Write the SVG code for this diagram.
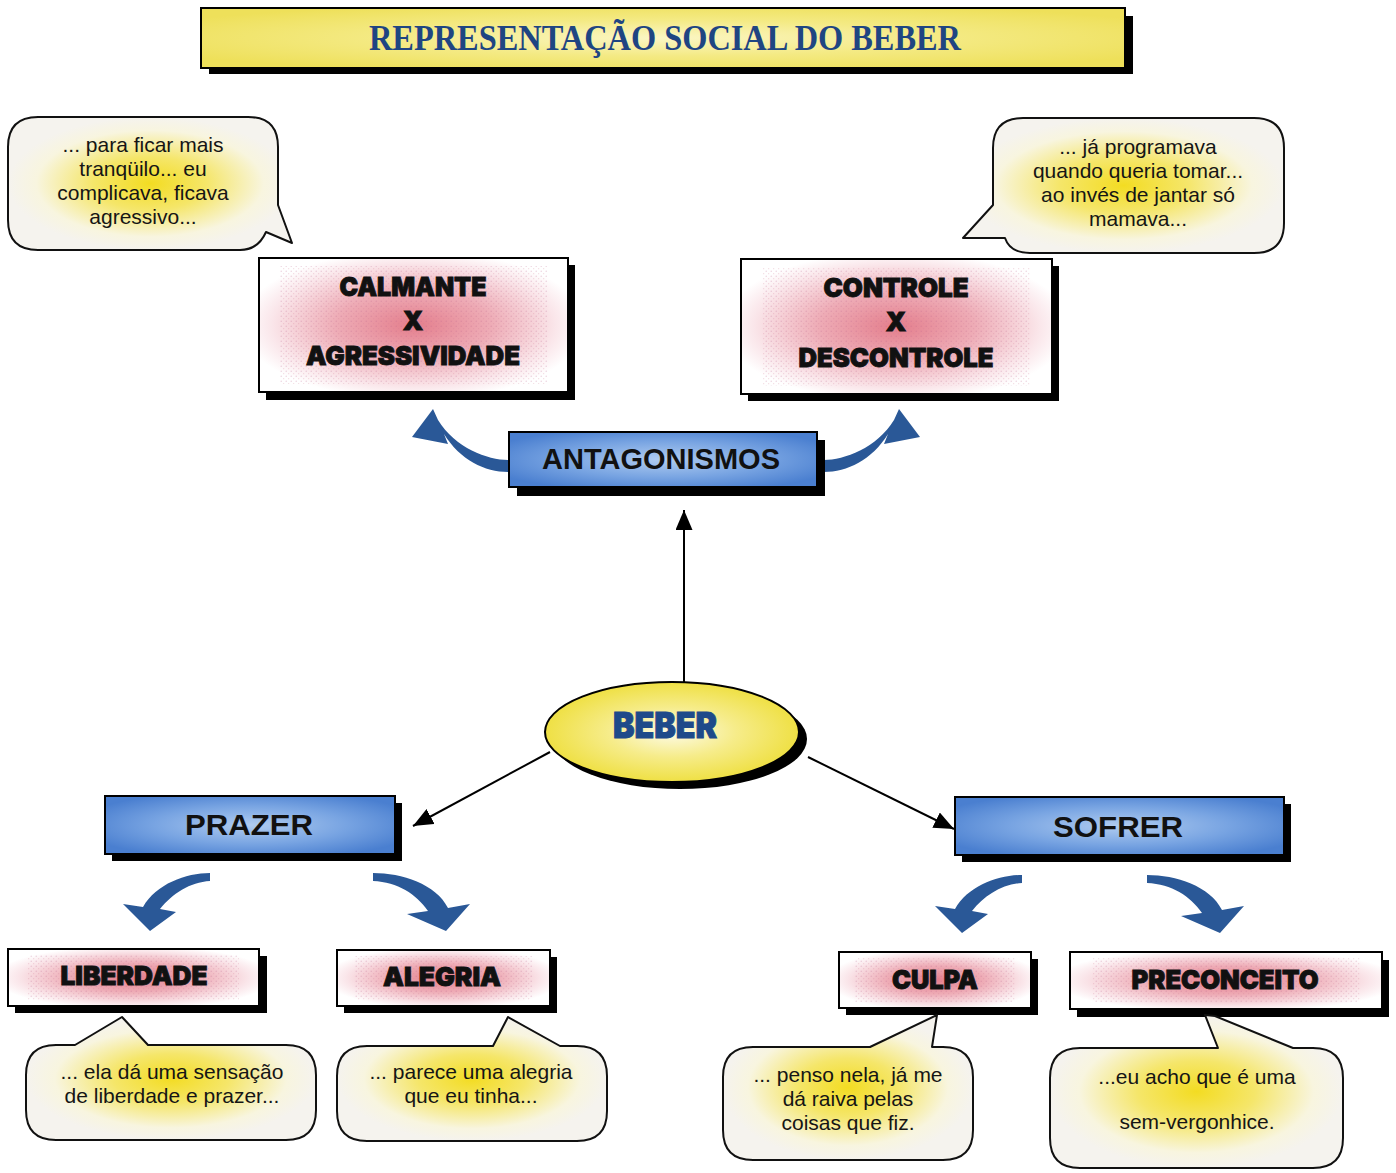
<svg xmlns="http://www.w3.org/2000/svg" width="1396" height="1173" viewBox="0 0 1396 1173">
  <defs>
    <radialGradient id="gTitle" cx="0.5" cy="0.5" r="0.6">
      <stop offset="0" stop-color="#fbf6c4"/>
      <stop offset="0.5" stop-color="#f4ea84"/>
      <stop offset="1" stop-color="#eee05a"/>
    </radialGradient>
    <radialGradient id="gBlue" cx="0.5" cy="0.5" r="0.6">
      <stop offset="0" stop-color="#b0ccf0"/>
      <stop offset="0.55" stop-color="#78a4e2"/>
      <stop offset="1" stop-color="#4a7fd0"/>
    </radialGradient>
    <radialGradient id="gPink" cx="0.5" cy="0.5" r="0.56">
      <stop offset="0" stop-color="#e47e8c"/>
      <stop offset="0.45" stop-color="#eeacb6"/>
      <stop offset="0.82" stop-color="#fae6ea"/>
      <stop offset="1" stop-color="#ffffff"/>
    </radialGradient>
    <pattern id="dots" width="5" height="5" patternUnits="userSpaceOnUse">
      <circle cx="1.2" cy="1.2" r="0.7" fill="#b85c8c"/>
      <circle cx="3.7" cy="3.7" r="0.6" fill="#d07890"/>
    </pattern>
    <radialGradient id="gBubble" cx="0.5" cy="0.5" r="0.5">
      <stop offset="0" stop-color="#f3dc22"/>
      <stop offset="0.4" stop-color="#f5e66a"/>
      <stop offset="0.8" stop-color="#f8f5df"/>
      <stop offset="1" stop-color="#f5f3ee"/>
    </radialGradient>
    <radialGradient id="gEllipse" cx="0.5" cy="0.5" r="0.5">
      <stop offset="0" stop-color="#fdfbe8"/>
      <stop offset="0.5" stop-color="#f6ec8a"/>
      <stop offset="1" stop-color="#efe044"/>
    </radialGradient>
    <marker id="ah" viewBox="0 0 10 10" refX="10" refY="5" markerWidth="20" markerHeight="17" markerUnits="userSpaceOnUse" orient="auto" preserveAspectRatio="none">
      <path d="M0,0 L10,5 L0,10 Z" fill="#000"/>
    </marker>
    <path id="curveUp" d="M508,460 C488,460 455,448 438,420 L433,409 L412,437 L448,444 L444,434 C460,460 485,472 508,472 Z"/>
  </defs>
  <style>
    .shadow { fill: #000; }
    .box { stroke: #000; stroke-width: 2; }
    .blue { fill: url(#gBlue); }
    .pink { fill: url(#gPink); }
    .dots { fill: url(#dots); opacity: 0.3; }
    .bubble { fill: url(#gBubble); stroke: #111; stroke-width: 2; stroke-linejoin: round; }
    .heavy { font-family: Inter, "DejaVu Sans", sans-serif; font-weight: 900; font-size: 26px; fill: #111; stroke: #111; stroke-width: 0.9; text-anchor: middle; }
    .label { font-family: "Liberation Sans", Arial, sans-serif; font-weight: bold; font-size: 30px; fill: #111; text-anchor: middle; }
    .quote { font-family: "Liberation Sans", Arial, sans-serif; font-size: 21px; fill: #151515; text-anchor: middle; }
    .conn { stroke: #000; stroke-width: 2; fill: none; marker-end: url(#ah); }
    .bend { fill: #2a5897; }
  </style>

  <rect width="1396" height="1173" fill="#ffffff"/>

  <!-- title banner -->
  <g id="title">
    <rect class="shadow" x="209" y="16" width="924" height="58"/>
    <rect x="201" y="8" width="924" height="60" fill="url(#gTitle)" class="box"/>
    <text x="665" y="50" font-family="'Liberation Serif', 'Times New Roman', serif" font-weight="bold" font-size="36" fill="#1f4582" text-anchor="middle" textLength="592" lengthAdjust="spacingAndGlyphs">REPRESENTAÇÃO SOCIAL DO BEBER</text>
  </g>

  <!-- connectors -->
  <g id="connectors">
    <path class="conn" d="M684,682 L684,510"/>
    <path class="conn" d="M550,752 L413,826"/>
    <path class="conn" d="M808,757 L954,829"/>
    <use href="#curveUp" class="bend"/>
    <use href="#curveUp" class="bend" transform="translate(1332,0) scale(-1,1)"/>
    <!-- PRAZER branches -->
    <path class="bend" d="M210,873 C186,873 156,884 143,907 L123,904 L150,931 L176,912 L160,909 C172,894 190,882 210,881 Z"/>
    <path class="bend" d="M373,873 C402,873 436,884 448,908 L470,904 L446,931 L407,914 L428,911 C416,894 398,882 373,881 Z"/>
    <!-- SOFRER branches -->
    <path class="bend" transform="translate(812,2)" d="M210,873 C186,873 156,884 143,907 L123,904 L150,931 L176,912 L160,909 C172,894 190,882 210,881 Z"/>
    <path class="bend" transform="translate(774,2)" d="M373,873 C402,873 436,884 448,908 L470,904 L446,931 L407,914 L428,911 C416,894 398,882 373,881 Z"/>
  </g>

  <!-- speech bubbles, top -->
  <g id="quote-calmante">
    <path class="bubble" d="M38,117 L248,117 Q278,117 278,147 L278,205 L292,243 L266,232 Q258,250 240,250 L38,250 Q8,250 8,220 L8,147 Q8,117 38,117 Z"/>
    <text class="quote" x="143" y="152">... para ficar mais</text>
    <text class="quote" x="143" y="176">tranqüilo... eu</text>
    <text class="quote" x="143" y="200">complicava, ficava</text>
    <text class="quote" x="143" y="224">agressivo...</text>
  </g>
  <g id="quote-controle">
    <path class="bubble" d="M1023,118 L1254,118 Q1284,118 1284,148 L1284,223 Q1284,253 1254,253 L1030,253 Q1010,253 1005,238 L963,238 L993,205 L993,148 Q993,118 1023,118 Z"/>
    <text class="quote" x="1138" y="154">... já programava</text>
    <text class="quote" x="1138" y="178">quando queria tomar...</text>
    <text class="quote" x="1138" y="202">ao invés de jantar só</text>
    <text class="quote" x="1138" y="226">mamava...</text>
  </g>

  <!-- antagonism boxes -->
  <g id="calmante">
    <rect class="shadow" x="266" y="265" width="309" height="135"/>
    <rect class="box pink" x="259" y="258" width="309" height="134"/>
    <rect class="dots" x="280" y="266" width="268" height="118"/>
    <text class="heavy" x="413" y="296" textLength="147" lengthAdjust="spacingAndGlyphs">CALMANTE</text>
    <text class="heavy" x="413" y="330">X</text>
    <text class="heavy" x="413" y="365" textLength="214" lengthAdjust="spacingAndGlyphs">AGRESSIVIDADE</text>
  </g>
  <g id="controle">
    <rect class="shadow" x="748" y="266" width="311" height="135"/>
    <rect class="box pink" x="741" y="259" width="311" height="135"/>
    <rect class="dots" x="762" y="267" width="268" height="119"/>
    <text class="heavy" x="896" y="297" textLength="145" lengthAdjust="spacingAndGlyphs">CONTROLE</text>
    <text class="heavy" x="896" y="331">X</text>
    <text class="heavy" x="896" y="367" textLength="195" lengthAdjust="spacingAndGlyphs">DESCONTROLE</text>
  </g>

  <g id="antagonismos">
    <rect class="shadow" x="517" y="440" width="308" height="56"/>
    <rect class="box blue" x="509" y="432" width="308" height="55"/>
    <text class="label" x="661" y="469" font-size="29" textLength="238" lengthAdjust="spacingAndGlyphs">ANTAGONISMOS</text>
  </g>

  <!-- central node -->
  <g id="beber">
    <ellipse cx="680" cy="739" rx="127" ry="50" fill="#000"/>
    <ellipse cx="672" cy="732" rx="127" ry="50" fill="url(#gEllipse)" stroke="#000" stroke-width="2"/>
    <text x="665" y="738" font-family="Inter, 'DejaVu Sans', sans-serif" font-weight="900" font-size="35" fill="#1e4a8a" stroke="#1e4a8a" stroke-width="1" text-anchor="middle" textLength="104" lengthAdjust="spacingAndGlyphs">BEBER</text>
  </g>

  <g id="prazer">
    <rect class="shadow" x="112" y="803" width="290" height="58"/>
    <rect class="box blue" x="105" y="796" width="290" height="58"/>
    <text class="label" x="249" y="835" textLength="128" lengthAdjust="spacingAndGlyphs">PRAZER</text>
  </g>
  <g id="sofrer">
    <rect class="shadow" x="962" y="804" width="329" height="58"/>
    <rect class="box blue" x="955" y="797" width="329" height="58"/>
    <text class="label" x="1118" y="837" textLength="130" lengthAdjust="spacingAndGlyphs">SOFRER</text>
  </g>

  <!-- leaf boxes -->
  <g id="liberdade">
    <rect class="shadow" x="15" y="956" width="252" height="57"/>
    <rect class="box pink" x="8" y="949" width="251" height="57"/>
    <rect class="dots" x="28" y="955" width="211" height="45"/>
    <text class="heavy" x="134" y="985" textLength="147" lengthAdjust="spacingAndGlyphs">LIBERDADE</text>
  </g>
  <g id="alegria">
    <rect class="shadow" x="344" y="957" width="213" height="56"/>
    <rect class="box pink" x="337" y="950" width="213" height="56"/>
    <rect class="dots" x="355" y="956" width="177" height="44"/>
    <text class="heavy" x="442" y="986" textLength="118" lengthAdjust="spacingAndGlyphs">ALEGRIA</text>
  </g>
  <g id="culpa">
    <rect class="shadow" x="846" y="959" width="192" height="56"/>
    <rect class="box pink" x="839" y="952" width="192" height="56"/>
    <rect class="dots" x="855" y="958" width="160" height="44"/>
    <text class="heavy" x="935" y="989" textLength="86" lengthAdjust="spacingAndGlyphs">CULPA</text>
  </g>
  <g id="preconceito">
    <rect class="shadow" x="1077" y="960" width="312" height="57"/>
    <rect class="box pink" x="1070" y="952" width="312" height="57"/>
    <rect class="dots" x="1092" y="958" width="268" height="45"/>
    <text class="heavy" x="1225" y="989" textLength="187" lengthAdjust="spacingAndGlyphs">PRECONCEITO</text>
  </g>

  <!-- speech bubbles, bottom -->
  <g id="quote-liberdade">
    <path class="bubble" d="M56,1045 L75,1045 L122,1017 L148,1045 L286,1045 Q316,1045 316,1075 L316,1110 Q316,1140 286,1140 L56,1140 Q26,1140 26,1110 L26,1075 Q26,1045 56,1045 Z"/>
    <text class="quote" x="172" y="1079">... ela dá uma sensação</text>
    <text class="quote" x="172" y="1103">de liberdade e prazer...</text>
  </g>
  <g id="quote-alegria">
    <path class="bubble" d="M367,1046 L493,1046 L508,1017 L560,1046 L577,1046 Q607,1046 607,1076 L607,1111 Q607,1141 577,1141 L367,1141 Q337,1141 337,1111 L337,1076 Q337,1046 367,1046 Z"/>
    <text class="quote" x="471" y="1079">... parece uma alegria</text>
    <text class="quote" x="471" y="1103">que eu tinha...</text>
  </g>
  <g id="quote-culpa">
    <path class="bubble" d="M753,1047 L870,1047 L937,1015 L932,1047 L943,1047 Q973,1047 973,1077 L973,1130 Q973,1160 943,1160 L753,1160 Q723,1160 723,1130 L723,1077 Q723,1047 753,1047 Z"/>
    <text class="quote" x="848" y="1082">... penso nela, já me</text>
    <text class="quote" x="848" y="1106">dá raiva pelas</text>
    <text class="quote" x="848" y="1130">coisas que fiz.</text>
  </g>
  <g id="quote-preconceito">
    <path class="bubble" d="M1080,1048 L1218,1048 L1205,1015 L1215,1016 L1293,1048 L1313,1048 Q1343,1048 1343,1078 L1343,1138 Q1343,1168 1313,1168 L1080,1168 Q1050,1168 1050,1138 L1050,1078 Q1050,1048 1080,1048 Z"/>
    <text class="quote" x="1197" y="1084">...eu acho que é uma</text>
    <text class="quote" x="1197" y="1129">sem-vergonhice.</text>
  </g>
</svg>
